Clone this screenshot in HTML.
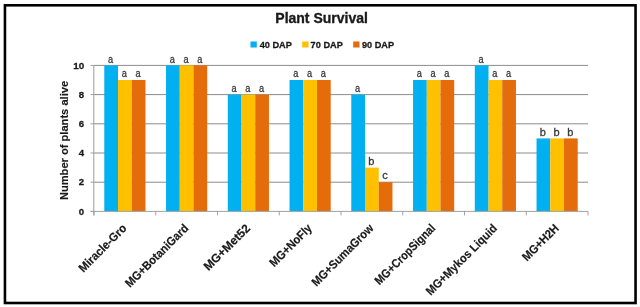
<!DOCTYPE html>
<html><head><meta charset="utf-8"><style>
html,body{margin:0;padding:0;background:#fff;}
body{width:640px;height:307px;overflow:hidden;position:relative;}
svg{position:absolute;left:0;top:0;}
#wrap{position:absolute;left:0;top:0;width:640px;height:307px;background:#fff;will-change:transform;}
text{font-family:"Liberation Sans",sans-serif;}
.dl{font-size:11px;fill:#3a3a3a;stroke:#3a3a3a;stroke-width:0.3px;text-anchor:middle;}
.yt{font-size:9.6px;font-weight:bold;fill:#1a1a1a;stroke:#1a1a1a;stroke-width:0.3px;text-anchor:end;}
.cl{font-size:12px;font-weight:bold;fill:#1a1a1a;stroke:#1a1a1a;stroke-width:0.2px;text-anchor:end;}
.yl{font-size:10.8px;font-weight:bold;fill:#1a1a1a;stroke:#1a1a1a;stroke-width:0.15px;text-anchor:middle;}
.tt{font-size:14.6px;font-weight:bold;fill:#1a1a1a;stroke:#1a1a1a;stroke-width:0.35px;text-anchor:middle;}
.lg{font-size:9.5px;font-weight:bold;fill:#1a1a1a;stroke:#1a1a1a;stroke-width:0.3px;}
</style></head><body>
<div id="wrap"><svg width="640" height="307" viewBox="0 0 640 307">
<rect x="4.95" y="5.3" width="630.6" height="297.7" fill="none" stroke="#000" stroke-width="2.6"/>
<text x="321.6" y="23.4" class="tt" textLength="92.6" lengthAdjust="spacingAndGlyphs">Plant Survival</text>
<rect x="250.5" y="41.5" width="6.3" height="6" fill="#00B0F0"/>
<text x="259.7" y="47.9" class="lg" textLength="32.2" lengthAdjust="spacingAndGlyphs">40 DAP</text>
<rect x="302.2" y="41.5" width="6.3" height="6" fill="#FFC000"/>
<text x="310.6" y="47.9" class="lg" textLength="32.2" lengthAdjust="spacingAndGlyphs">70 DAP</text>
<rect x="353.2" y="41.5" width="6.3" height="6" fill="#E46C0A"/>
<text x="361.9" y="47.9" class="lg" textLength="32.2" lengthAdjust="spacingAndGlyphs">90 DAP</text>
<line x1="94.0" y1="182.20" x2="588.0" y2="182.20" stroke="#8c8c8c" stroke-width="1"/>
<line x1="94.0" y1="153.00" x2="588.0" y2="153.00" stroke="#8c8c8c" stroke-width="1"/>
<line x1="94.0" y1="123.80" x2="588.0" y2="123.80" stroke="#8c8c8c" stroke-width="1"/>
<line x1="94.0" y1="94.60" x2="588.0" y2="94.60" stroke="#8c8c8c" stroke-width="1"/>
<line x1="94.0" y1="65.40" x2="588.0" y2="65.40" stroke="#8c8c8c" stroke-width="1"/>
<rect x="104.29" y="65.40" width="13.72" height="146.00" fill="#00B0F0"/>
<text x="110.65" y="62.50" class="dl" textLength="5.1" lengthAdjust="spacingAndGlyphs">a</text>
<rect x="118.01" y="80.00" width="13.72" height="131.40" fill="#FFC000"/>
<text x="124.38" y="77.10" class="dl" textLength="5.1" lengthAdjust="spacingAndGlyphs">a</text>
<rect x="131.74" y="80.00" width="13.72" height="131.40" fill="#E46C0A"/>
<text x="138.10" y="77.10" class="dl" textLength="5.1" lengthAdjust="spacingAndGlyphs">a</text>
<rect x="166.04" y="65.40" width="13.72" height="146.00" fill="#00B0F0"/>
<text x="172.40" y="62.50" class="dl" textLength="5.1" lengthAdjust="spacingAndGlyphs">a</text>
<rect x="179.76" y="65.40" width="13.72" height="146.00" fill="#FFC000"/>
<text x="186.12" y="62.50" class="dl" textLength="5.1" lengthAdjust="spacingAndGlyphs">a</text>
<rect x="193.49" y="65.40" width="13.72" height="146.00" fill="#E46C0A"/>
<text x="199.85" y="62.50" class="dl" textLength="5.1" lengthAdjust="spacingAndGlyphs">a</text>
<rect x="227.79" y="94.60" width="13.72" height="116.80" fill="#00B0F0"/>
<text x="234.15" y="91.70" class="dl" textLength="5.1" lengthAdjust="spacingAndGlyphs">a</text>
<rect x="241.51" y="94.60" width="13.72" height="116.80" fill="#FFC000"/>
<text x="247.88" y="91.70" class="dl" textLength="5.1" lengthAdjust="spacingAndGlyphs">a</text>
<rect x="255.24" y="94.60" width="13.72" height="116.80" fill="#E46C0A"/>
<text x="261.60" y="91.70" class="dl" textLength="5.1" lengthAdjust="spacingAndGlyphs">a</text>
<rect x="289.54" y="80.00" width="13.72" height="131.40" fill="#00B0F0"/>
<text x="295.90" y="77.10" class="dl" textLength="5.1" lengthAdjust="spacingAndGlyphs">a</text>
<rect x="303.26" y="80.00" width="13.72" height="131.40" fill="#FFC000"/>
<text x="309.62" y="77.10" class="dl" textLength="5.1" lengthAdjust="spacingAndGlyphs">a</text>
<rect x="316.99" y="80.00" width="13.72" height="131.40" fill="#E46C0A"/>
<text x="323.35" y="77.10" class="dl" textLength="5.1" lengthAdjust="spacingAndGlyphs">a</text>
<rect x="351.29" y="94.60" width="13.72" height="116.80" fill="#00B0F0"/>
<text x="357.65" y="91.70" class="dl" textLength="5.1" lengthAdjust="spacingAndGlyphs">a</text>
<rect x="365.01" y="167.60" width="13.72" height="43.80" fill="#FFC000"/>
<text x="371.38" y="164.70" class="dl">b</text>
<rect x="378.74" y="182.20" width="13.72" height="29.20" fill="#E46C0A"/>
<text x="385.10" y="179.30" class="dl">c</text>
<rect x="413.04" y="80.00" width="13.72" height="131.40" fill="#00B0F0"/>
<text x="419.40" y="77.10" class="dl" textLength="5.1" lengthAdjust="spacingAndGlyphs">a</text>
<rect x="426.76" y="80.00" width="13.72" height="131.40" fill="#FFC000"/>
<text x="433.12" y="77.10" class="dl" textLength="5.1" lengthAdjust="spacingAndGlyphs">a</text>
<rect x="440.49" y="80.00" width="13.72" height="131.40" fill="#E46C0A"/>
<text x="446.85" y="77.10" class="dl" textLength="5.1" lengthAdjust="spacingAndGlyphs">a</text>
<rect x="474.79" y="65.40" width="13.72" height="146.00" fill="#00B0F0"/>
<text x="481.15" y="62.50" class="dl" textLength="5.1" lengthAdjust="spacingAndGlyphs">a</text>
<rect x="488.51" y="80.00" width="13.72" height="131.40" fill="#FFC000"/>
<text x="494.88" y="77.10" class="dl" textLength="5.1" lengthAdjust="spacingAndGlyphs">a</text>
<rect x="502.24" y="80.00" width="13.72" height="131.40" fill="#E46C0A"/>
<text x="508.60" y="77.10" class="dl" textLength="5.1" lengthAdjust="spacingAndGlyphs">a</text>
<rect x="536.54" y="138.40" width="13.72" height="73.00" fill="#00B0F0"/>
<text x="542.90" y="135.50" class="dl">b</text>
<rect x="550.26" y="138.40" width="13.72" height="73.00" fill="#FFC000"/>
<text x="556.62" y="135.50" class="dl">b</text>
<rect x="563.99" y="138.40" width="13.72" height="73.00" fill="#E46C0A"/>
<text x="570.35" y="135.50" class="dl">b</text>
<line x1="93.8" y1="65.4" x2="93.8" y2="215.4" stroke="#9c9c9c" stroke-width="1"/>
<line x1="90.5" y1="211.4" x2="588.0" y2="211.4" stroke="#a0a0a0" stroke-width="1"/>
<line x1="90.5" y1="211.40" x2="94.0" y2="211.40" stroke="#a0a0a0" stroke-width="1"/>
<text x="84.2" y="214.50" class="yt">0</text>
<line x1="90.5" y1="182.20" x2="94.0" y2="182.20" stroke="#a0a0a0" stroke-width="1"/>
<text x="84.2" y="185.30" class="yt">2</text>
<line x1="90.5" y1="153.00" x2="94.0" y2="153.00" stroke="#a0a0a0" stroke-width="1"/>
<text x="84.2" y="156.10" class="yt">4</text>
<line x1="90.5" y1="123.80" x2="94.0" y2="123.80" stroke="#a0a0a0" stroke-width="1"/>
<text x="84.2" y="126.90" class="yt">6</text>
<line x1="90.5" y1="94.60" x2="94.0" y2="94.60" stroke="#a0a0a0" stroke-width="1"/>
<text x="84.2" y="97.70" class="yt">8</text>
<line x1="90.5" y1="65.40" x2="94.0" y2="65.40" stroke="#a0a0a0" stroke-width="1"/>
<text x="84.2" y="68.50" class="yt" textLength="11" lengthAdjust="spacingAndGlyphs">10</text>
<line x1="94.00" y1="211.4" x2="94.00" y2="215.4" stroke="#a0a0a0" stroke-width="1"/>
<line x1="155.75" y1="211.4" x2="155.75" y2="215.4" stroke="#a0a0a0" stroke-width="1"/>
<line x1="217.50" y1="211.4" x2="217.50" y2="215.4" stroke="#a0a0a0" stroke-width="1"/>
<line x1="279.25" y1="211.4" x2="279.25" y2="215.4" stroke="#a0a0a0" stroke-width="1"/>
<line x1="341.00" y1="211.4" x2="341.00" y2="215.4" stroke="#a0a0a0" stroke-width="1"/>
<line x1="402.75" y1="211.4" x2="402.75" y2="215.4" stroke="#a0a0a0" stroke-width="1"/>
<line x1="464.50" y1="211.4" x2="464.50" y2="215.4" stroke="#a0a0a0" stroke-width="1"/>
<line x1="526.25" y1="211.4" x2="526.25" y2="215.4" stroke="#a0a0a0" stroke-width="1"/>
<line x1="588.00" y1="211.4" x2="588.00" y2="215.4" stroke="#a0a0a0" stroke-width="1"/>
<text x="127.38" y="229.00" class="cl" textLength="62.1" lengthAdjust="spacingAndGlyphs" transform="rotate(-45 127.38 229.00)">Miracle-Gro</text>
<text x="189.12" y="229.00" class="cl" textLength="83.5" lengthAdjust="spacingAndGlyphs" transform="rotate(-45 189.12 229.00)">MG+BotaniGard</text>
<text x="250.88" y="229.00" class="cl" textLength="59.9" lengthAdjust="spacingAndGlyphs" transform="rotate(-45 250.88 229.00)">MG+Met52</text>
<text x="312.62" y="229.00" class="cl" textLength="54.3" lengthAdjust="spacingAndGlyphs" transform="rotate(-45 312.62 229.00)">MG+NoFly</text>
<text x="374.38" y="229.00" class="cl" textLength="81.9" lengthAdjust="spacingAndGlyphs" transform="rotate(-45 374.38 229.00)">MG+SumaGrow</text>
<text x="436.12" y="229.00" class="cl" textLength="80.0" lengthAdjust="spacingAndGlyphs" transform="rotate(-45 436.12 229.00)">MG+CropSignal</text>
<text x="497.88" y="229.00" class="cl" textLength="94.9" lengthAdjust="spacingAndGlyphs" transform="rotate(-45 497.88 229.00)">MG+Mykos Liquid</text>
<text x="559.62" y="229.00" class="cl" textLength="46.3" lengthAdjust="spacingAndGlyphs" transform="rotate(-45 559.62 229.00)">MG+H2H</text>
<text x="-140.5" y="68.1" class="yl" textLength="119.2" lengthAdjust="spacingAndGlyphs" transform="rotate(-90)">Number of plants alive</text>
</svg></div>
</body></html>
